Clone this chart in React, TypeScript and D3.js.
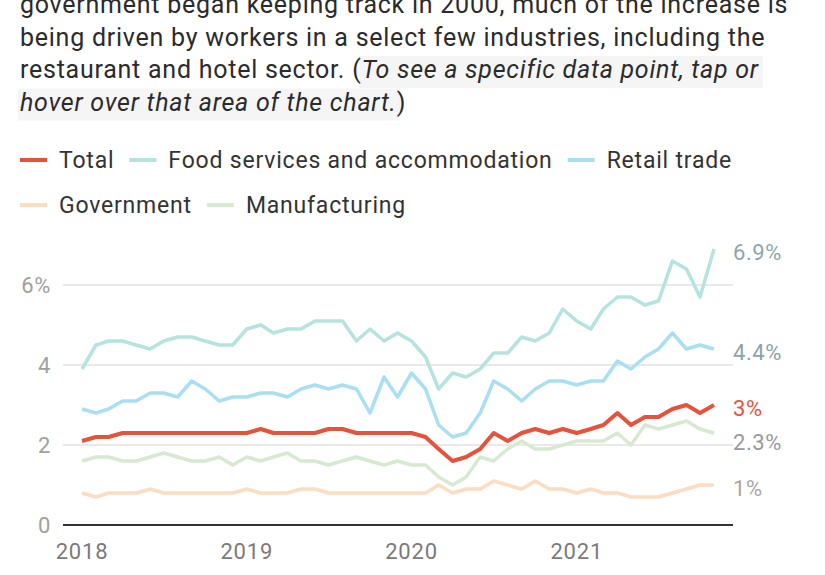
import React, { useRef, useEffect } from 'react';
import * as d3 from 'd3';

// monthly share of workers quitting, Jan 2018 - Nov 2021 (%)
const totalRate = [2.1, 2.2, 2.2, 2.3, 2.3, 2.3, 2.3, 2.3, 2.3, 2.3, 2.3, 2.3,
  2.3, 2.4, 2.3, 2.3, 2.3, 2.3, 2.4, 2.4, 2.3, 2.3, 2.3, 2.3,
  2.3, 2.2, 1.9, 1.6, 1.7, 1.9, 2.3, 2.1, 2.3, 2.4, 2.3, 2.4,
  2.3, 2.4, 2.5, 2.8, 2.5, 2.7, 2.7, 2.9, 3.0, 2.8, 3.0];
const foodRate = [3.9, 4.5, 4.6, 4.6, 4.5, 4.4, 4.6, 4.7, 4.7, 4.6, 4.5, 4.5,
  4.9, 5.0, 4.8, 4.9, 4.9, 5.1, 5.1, 5.1, 4.6, 4.9, 4.6, 4.8,
  4.6, 4.2, 3.4, 3.8, 3.7, 3.9, 4.3, 4.3, 4.7, 4.6, 4.8, 5.4,
  5.1, 4.9, 5.4, 5.7, 5.7, 5.5, 5.6, 6.6, 6.4, 5.7, 6.9];
const retailRate = [2.9, 2.8, 2.9, 3.1, 3.1, 3.3, 3.3, 3.2, 3.6, 3.4, 3.1, 3.2,
  3.2, 3.3, 3.3, 3.2, 3.4, 3.5, 3.4, 3.5, 3.4, 2.8, 3.7, 3.2,
  3.8, 3.4, 2.5, 2.2, 2.3, 2.8, 3.6, 3.4, 3.1, 3.4, 3.6, 3.6,
  3.5, 3.6, 3.6, 4.1, 3.9, 4.2, 4.4, 4.8, 4.4, 4.5, 4.4];
const governmentRate = [0.8, 0.7, 0.8, 0.8, 0.8, 0.9, 0.8, 0.8, 0.8, 0.8, 0.8, 0.8,
  0.9, 0.8, 0.8, 0.8, 0.9, 0.9, 0.8, 0.8, 0.8, 0.8, 0.8, 0.8,
  0.8, 0.8, 1.0, 0.8, 0.9, 0.9, 1.1, 1.0, 0.9, 1.1, 0.9, 0.9,
  0.8, 0.9, 0.8, 0.8, 0.7, 0.7, 0.7, 0.8, 0.9, 1.0, 1.0];
const manufacturingRate = [1.6, 1.7, 1.7, 1.6, 1.6, 1.7, 1.8, 1.7, 1.6, 1.6, 1.7, 1.5,
  1.7, 1.6, 1.7, 1.8, 1.6, 1.6, 1.5, 1.6, 1.7, 1.6, 1.5, 1.6,
  1.5, 1.5, 1.2, 1.0, 1.2, 1.7, 1.6, 1.9, 2.1, 1.9, 1.9, 2.0,
  2.1, 2.1, 2.1, 2.3, 2.0, 2.5, 2.4, 2.5, 2.6, 2.4, 2.3];

const seriesNames = ['Total', 'Food services and accommodation', 'Retail trade', 'Government', 'Manufacturing'];
const seriesValues = [totalRate, foodRate, retailRate, governmentRate, manufacturingRate];
const seriesColors = ['#e6533c', '#b5e3dd', '#a8dff2', '#fddcc2', '#d7e9d1'];
const endLabelColors = ['#e6533c', '#8ea7a7', '#8aa3a8', '#aaa5a2', '#999999'];
const drawOrder = [1, 2, 3, 4, 0];

const firstMonth = new Date(2018, 0, 1);
const lastMonth = new Date(2021, 10, 1);
const yTicks = [0, 2, 4, 6];
const xTickYears = [2018, 2019, 2020, 2021];

// intro text, the first line is scrolled half out of view
const paragraphLines = [
  [{ text: 'government began keeping track in 2000, much of the increase is', italic: false }],
  [{ text: 'being driven by workers in a select few industries, including the', italic: false }],
  [{ text: 'restaurant and hotel sector. (', italic: false }, { text: 'To see a specific data point, tap or', italic: true }],
  [{ text: 'hover over that area of the chart.', italic: true }, { text: ')', italic: false }],
];

const FONT = 'Roboto, "Noto Sans", sans-serif';

const App = () => {
  const svgRef = useRef(null);

  useEffect(() => {
    const svg = d3.select(svgRef.current);
    svg.selectAll('*').remove();

    // paragraph
    const para = svg.append('g');
    paragraphLines.forEach((line, li) => {
      const baseline = 13 + li * 32.5;
      let x = 20;
      line.forEach(seg => {
        const t = para.append('text')
          .attr('x', x)
          .attr('y', baseline)
          .attr('font-family', FONT)
          .attr('font-size', 25)
          .attr('letter-spacing', 0.75)
          .attr('font-style', seg.italic ? 'italic' : 'normal')
          .attr('fill', '#2b2b2b')
          .text(seg.text);
        const w = t.node().getComputedTextLength();
        if (seg.italic) {
          para.insert('rect', 'text')
            .attr('x', x - 2)
            .attr('y', baseline - 22)
            .attr('width', w + 6)
            .attr('height', 32)
            .attr('fill', '#f5f5f5');
        }
        x += w;
      });
    });

    // legend
    const legend = svg.append('g');
    let lx = 20;
    let ly = 160;
    seriesNames.forEach((name, i) => {
      const item = legend.append('g');
      item.append('line')
        .attr('x1', 0).attr('x2', 27)
        .attr('y1', 0).attr('y2', 0)
        .attr('stroke', seriesColors[i])
        .attr('stroke-width', 4);
      const t = item.append('text')
        .attr('x', 39)
        .attr('y', 0)
        .attr('dy', '0.35em')
        .attr('font-family', FONT)
        .attr('font-size', 23)
        .attr('letter-spacing', 0.8)
        .attr('fill', '#333')
        .text(name);
      const w = 39 + t.node().getComputedTextLength();
      if (lx + w > 800) {
        lx = 20;
        ly += 45;
      }
      item.attr('transform', `translate(${lx},${ly})`);
      lx += w + 15;
    });

    // scales
    const x = d3.scaleTime().domain([firstMonth, lastMonth]).range([82, 714]);
    const y = d3.scaleLinear().domain([0, 6]).range([525, 285]);
    const months = totalRate.map((_, i) => d3.timeMonth.offset(firstMonth, i));

    // grid
    const grid = svg.append('g');
    yTicks.filter(d => d > 0).forEach(d => {
      grid.append('line')
        .attr('x1', 63).attr('x2', 733)
        .attr('y1', y(d)).attr('y2', y(d))
        .attr('stroke', '#e2e2e2')
        .attr('stroke-width', 1.5);
    });
    yTicks.forEach(d => {
      grid.append('text')
        .attr('x', 51)
        .attr('y', y(d))
        .attr('dy', '0.36em')
        .attr('text-anchor', 'end')
        .attr('font-family', FONT)
        .attr('font-size', 22)
        .attr('letter-spacing', 0.6)
        .attr('fill', '#a0a0a0')
        .text(d === 6 ? '6%' : d);
    });
    xTickYears.forEach(yr => {
      grid.append('text')
        .attr('x', x(new Date(yr, 0, 1)))
        .attr('y', 551)
        .attr('dy', '0.36em')
        .attr('text-anchor', 'middle')
        .attr('font-family', FONT)
        .attr('font-size', 22)
        .attr('letter-spacing', 0.8)
        .attr('fill', '#7a7a7a')
        .text(yr);
    });
    grid.append('line')
      .attr('x1', 63).attr('x2', 733)
      .attr('y1', y(0)).attr('y2', y(0))
      .attr('stroke', '#333')
      .attr('stroke-width', 2);

    // lines
    const line = d3.line()
      .x((d, i) => x(months[i]))
      .y(d => y(d));
    drawOrder.forEach(i => {
      svg.append('path')
        .datum(seriesValues[i])
        .attr('d', line)
        .attr('fill', 'none')
        .attr('stroke', seriesColors[i])
        .attr('stroke-width', i === 0 ? 4 : 3.5)
        .attr('stroke-linejoin', 'round');
    });

    // end labels, pushed apart when they collide
    const ends = seriesValues
      .map((vals, i) => ({ i, v: vals[vals.length - 1], ly: y(vals[vals.length - 1]) + 3 }))
      .sort((a, b) => a.ly - b.ly);
    for (let k = 1; k < ends.length; k++) {
      if (ends[k].ly - ends[k - 1].ly < 34) ends[k].ly = ends[k - 1].ly + 34;
    }
    ends.forEach(e => {
      svg.append('text')
        .attr('x', 733)
        .attr('y', e.ly)
        .attr('dy', '0.36em')
        .attr('font-family', FONT)
        .attr('font-size', 22)
        .attr('letter-spacing', 0.6)
        .attr('fill', endLabelColors[e.i])
        .text(`${+e.v}%`);
    });
  }, []);

  return (
    <svg
      ref={svgRef}
      width={825}
      height={575}
      style={{ position: 'absolute', left: 0, top: 0, background: '#fff' }}
    />
  );
};

export default App;
